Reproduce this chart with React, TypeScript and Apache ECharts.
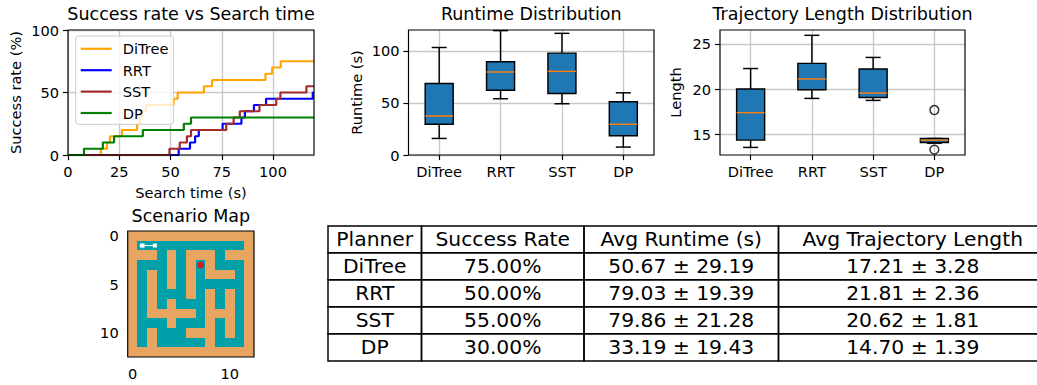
import React, { useEffect, useRef } from "react";
import * as echarts from "echarts";

const FONT = '"DejaVu Sans"';
const planners = ["DiTree", "RRT", "SST", "DP"];
const colors = ["#ffa500", "#0000ff", "#a52a2a", "#008000"];

// success-rate step events: [time, rate]
const ditreeSteps = [[0,0],[16,5],[19,10],[20.5,15],[26.3,20],[33.7,25],[35,30],[36.2,35],[38,40],[51.5,45],[53.5,50],[66.3,55],[70.3,60],[96.3,65],[99.6,70],[103.8,75],[120,75]];
const rrtSteps = [[0,0],[54,5],[59.5,10],[62,15],[63.8,20],[75.4,25],[84.6,30],[86.3,35],[90.7,40],[96.6,45],[119.4,50],[120,50]];
const sstSteps = [[0,0],[49.5,5],[54.5,10],[58,15],[60,20],[77.2,25],[80.8,30],[83.8,35],[93.4,40],[101.6,45],[103.6,50],[116.3,55],[120,55]];
const dpSteps = [[0,0],[7.8,5],[17,10],[22.5,15],[36.5,20],[56.5,25],[60,30],[120,30]];

// box statistics, one entry per planner
const runtimeLow = [15.9, 54, 49.2, 7.6];
const runtimeQ1 = [29.5, 62.2, 59, 18.4];
const runtimeMedian = [37.5, 79.7, 80.3, 29.5];
const runtimeQ3 = [68.6, 89.5, 97.8, 51.1];
const runtimeHigh = [103.2, 119.4, 116.8, 59.7];

const lengthLow = [13.53, 18.96, 18.74, 14.0];
const lengthQ1 = [14.34, 19.93, 19.07, 14.07];
const lengthMedian = [17.38, 21.12, 19.55, 14.34];
const lengthQ3 = [20, 22.84, 22.22, 14.52];
const lengthHigh = [22.27, 25.95, 23.5, 14.52];
const lengthOutliers = [[3, 17.67], [3, 13.28]];

// 1 = wall (sand), 0 = free (teal)
const mazeRows = [
  "1111111111111",
  "1000000000001",
  "1110101110111",
  "1000101010001",
  "1010101011101",
  "1010101000001",
  "1010001010101",
  "1010100010101",
  "1011111011101",
  "1000100010101",
  "1010001110101",
  "1010000010001",
  "1111111111111",
];
const goalPoint = [7, 3];
const startPoint = [1, 1];
const startArrow = [[1, 1], [2.3, 1]];

const tableRows = [
  ["Planner", "Success Rate", "Avg Runtime (s)", "Avg Trajectory Length"],
  ["DiTree", "75.00%", "50.67 ± 29.19", "17.21 ± 3.28"],
  ["RRT", "50.00%", "79.03 ± 19.39", "21.81 ± 2.36"],
  ["SST", "55.00%", "79.86 ± 21.28", "20.62 ± 1.81"],
  ["DP", "30.00%", "33.19 ± 19.43", "14.70 ± 1.39"],
];
const tableCols = [328, 421.5, 584, 778.5, 1047];
const tableLines = [226, 252.7, 279.7, 306.7, 333.7, 361];

const boxes = [
  { left: 68, top: 30, width: 246, height: 125 },
  { left: 408.5, top: 30, width: 245.5, height: 125 },
  { left: 720, top: 30, width: 245, height: 125 },
  { left: 127.7, top: 231, width: 126.3, height: 126 },
];

const label = { fontFamily: FONT, fontSize: 14.6, color: "#000", margin: 9 };
const tick = { length: 5.1, lineStyle: { color: "#000", width: 1.17 } };
const grayLine = { show: true, lineStyle: { color: "#c8c8c8", width: 1.33 } };
const axisName = { fontFamily: FONT, fontSize: 14.6, color: "#000" };

function valueAxis(gridIndex: number, min: number, max: number, ticks: number[], extra: any = {}) {
  return {
    type: "value",
    gridIndex,
    min,
    max,
    axisLine: { show: false },
    axisTick: { ...tick, show: true, customValues: ticks },
    axisLabel: { ...label, customValues: ticks },
    splitLine: { show: false },
    nameTextStyle: axisName,
    ...extra,
  };
}

function categoryAxis(gridIndex: number) {
  return {
    type: "category",
    gridIndex,
    data: planners,
    axisLine: { show: false },
    axisTick: { ...tick, show: true, alignWithLabel: true, interval: 0 },
    axisLabel: { ...label, interval: 0 },
    splitLine: { ...grayLine, alignWithLabel: true, interval: 0 },
  };
}

function boxItem(params: any, api: any) {
  const x = api.value(0);
  const pLow = api.coord([x, api.value(1)]);
  const pQ1 = api.coord([x, api.value(2)]);
  const pMed = api.coord([x, api.value(3)]);
  const pQ3 = api.coord([x, api.value(4)]);
  const pHigh = api.coord([x, api.value(5)]);
  const cx = pLow[0];
  const boxHalf = 14;
  const capHalf = 7.5;
  const black = { stroke: "#000", lineWidth: 1.46, fill: "none" };
  const seg = (x1: number, y1: number, x2: number, y2: number, style = black) => ({
    type: "line",
    shape: { x1, y1, x2, y2 },
    style,
  });
  return {
    type: "group",
    children: [
      seg(cx, pLow[1], cx, pQ1[1]),
      seg(cx, pQ3[1], cx, pHigh[1]),
      seg(cx - capHalf, pLow[1], cx + capHalf, pLow[1]),
      seg(cx - capHalf, pHigh[1], cx + capHalf, pHigh[1]),
      {
        type: "rect",
        shape: { x: cx - boxHalf, y: pQ3[1], width: boxHalf * 2, height: pQ1[1] - pQ3[1] },
        style: { fill: "#1f77b4", stroke: "#000", lineWidth: 1.46 },
      },
      seg(cx - boxHalf, pMed[1], cx + boxHalf, pMed[1], { stroke: "#ff7f0e", lineWidth: 1.46, fill: "none" }),
    ],
  };
}

function boxData(low: number[], q1: number[], med: number[], q3: number[], high: number[]) {
  return planners.map((_, i) => [i, low[i], q1[i], med[i], q3[i], high[i]]);
}

function mazeCell(params: any, api: any) {
  const c = api.value(0);
  const r = api.value(1);
  const a = api.coord([c - 0.5, r - 0.5]);
  const b = api.coord([c + 0.5, r + 0.5]);
  const fill = api.value(2) ? "#e8a562" : "#00a0ab";
  const x0 = Math.round(a[0]);
  const y0 = Math.round(a[1]);
  const x1 = Math.round(b[0]);
  const y1 = Math.round(b[1]);
  return {
    type: "rect",
    shape: { x: x0, y: y0, width: x1 - x0, height: y1 - y0 },
    style: { fill, stroke: "none" },
  };
}

const mazeData: number[][] = [];
mazeRows.forEach((row, r) => row.split("").forEach((v, c) => mazeData.push([c, r, Number(v)])));

function buildTable() {
  const out: any[] = [];
  tableRows.forEach((row, r) => {
    row.forEach((txt, c) => {
      const x0 = tableCols[c];
      const x1 = tableCols[c + 1];
      const y0 = tableLines[r];
      const y1 = tableLines[r + 1];
      out.push({
        type: "rect",
        shape: { x: x0, y: y0, width: x1 - x0, height: y1 - y0 },
        style: { fill: "none", stroke: "#000", lineWidth: 1.46 },
      });
      out.push({
        type: "text",
        x: (x0 + x1) / 2,
        y: (y0 + y1) / 2,
        style: { text: txt, fontFamily: FONT, fontSize: 20.3, fill: "#000", textAlign: "center", textVerticalAlign: "middle" },
      });
    });
  });
  return out;
}

const titles = ["Success rate vs Search time", "Runtime Distribution", "Trajectory Length Distribution", "Scenario Map"];

export default function App() {
  const ref = useRef<HTMLDivElement>(null);
  useEffect(() => {
    document.body.style.margin = "0";
    document.body.style.overflow = "hidden";
    const chart = echarts.init(ref.current!, undefined, { renderer: "svg" });
    const stepSets = [ditreeSteps, rrtSteps, sstSteps, dpSteps];
    chart.setOption({
      animation: false,
      backgroundColor: "#fff",
      title: titles.map((text, i) => ({
        text,
        left: boxes[i].left + boxes[i].width / 2,
        top: i === 3 ? 207 : 5,
        textAlign: "center",
        padding: 0,
        textStyle: { fontFamily: FONT, fontSize: 17.5, fontWeight: "normal", color: "#000" },
      })),
      grid: boxes.map((b) => ({ ...b, containLabel: false, show: false })),
      legend: {
        data: planners,
        left: 75.7,
        top: 36,
        orient: "vertical",
        align: "left",
        icon: "rect",
        padding: [5.3, 5, 3.8, 5],
        itemWidth: 31,
        itemHeight: 2.2,
        itemGap: 6.4,
        backgroundColor: "rgba(255,255,255,0.8)",
        borderColor: "#ccc",
        borderWidth: 1,
        borderRadius: 3,
        textStyle: { fontFamily: FONT, fontSize: 14.6, color: "#000", padding: [0, 0, 0, 6] },
      },
      xAxis: [
        valueAxis(0, 0, 120, [0, 25, 50, 75, 100], {
          splitLine: grayLine,
          name: "Search time (s)",
          nameLocation: "middle",
          nameGap: 29.5,
        }),
        categoryAxis(1),
        categoryAxis(2),
        valueAxis(3, -0.5, 12.5, [0, 10]),
      ],
      yAxis: [
        valueAxis(0, 0, 100, [0, 50, 100], {
          splitLine: grayLine,
          name: "Success rate (%)",
          nameLocation: "middle",
          nameGap: 45,
        }),
        valueAxis(1, 0, 120, [0, 50, 100], {
          splitLine: grayLine,
          name: "Runtime (s)",
          nameLocation: "middle",
          nameGap: 45,
        }),
        valueAxis(2, 12.69, 26.54, [15, 20, 25], {
          splitLine: grayLine,
          name: "Length",
          nameLocation: "middle",
          nameGap: 37,
        }),
        valueAxis(3, -0.5, 12.5, [0, 5, 10], { inverse: true }),
      ],
      series: [
        ...planners.map((name, i) => ({
          type: "line",
          name,
          xAxisIndex: 0,
          yAxisIndex: 0,
          step: "end",
          showSymbol: false,
          symbol: "none",
          data: stepSets[i],
          lineStyle: { color: colors[i], width: 2.2 },
          itemStyle: { color: colors[i] },
        })),
        {
          type: "custom",
          name: "Runtime",
          xAxisIndex: 1,
          yAxisIndex: 1,
          renderItem: boxItem,
          encode: { x: 0, y: [1, 2, 3, 4, 5] },
          data: boxData(runtimeLow, runtimeQ1, runtimeMedian, runtimeQ3, runtimeHigh),
        },
        {
          type: "custom",
          name: "Length",
          xAxisIndex: 2,
          yAxisIndex: 2,
          renderItem: boxItem,
          encode: { x: 0, y: [1, 2, 3, 4, 5] },
          data: boxData(lengthLow, lengthQ1, lengthMedian, lengthQ3, lengthHigh),
        },
        {
          type: "scatter",
          name: "Outliers",
          xAxisIndex: 2,
          yAxisIndex: 2,
          symbol: "circle",
          symbolSize: 8.8,
          clip: false,
          data: lengthOutliers,
          itemStyle: { color: "rgba(255,255,255,0)", borderColor: "#000", borderWidth: 1.46 },
        },
        {
          type: "custom",
          name: "Maze",
          xAxisIndex: 3,
          yAxisIndex: 3,
          renderItem: mazeCell,
          encode: { x: 0, y: 1 },
          data: mazeData,
          z: 2,
        },
        {
          type: "line",
          name: "Path",
          xAxisIndex: 3,
          yAxisIndex: 3,
          data: startArrow,
          symbol: ["none", "arrow"],
          symbolSize: 4,
          lineStyle: { color: "#fff", width: 1 },
          itemStyle: { color: "#fff" },
          z: 3,
        },
        {
          type: "scatter",
          name: "Start",
          xAxisIndex: 3,
          yAxisIndex: 3,
          symbol: "rect",
          symbolSize: [5, 3.5],
          data: [startPoint],
          itemStyle: { color: "#fff" },
          z: 4,
        },
        {
          type: "scatter",
          name: "Goal",
          xAxisIndex: 3,
          yAxisIndex: 3,
          symbol: "circle",
          symbolSize: 7,
          data: [goalPoint],
          itemStyle: { color: "#ff0000" },
          z: 4,
        },
      ],
      graphic: [
        ...boxes.map((b) => ({
          type: "rect",
          z: 50,
          shape: { x: b.left, y: b.top, width: b.width, height: b.height },
          style: { fill: "none", stroke: "#000", lineWidth: 1.17 },
        })),
        ...buildTable().map((g) => ({ ...g, z: 50 })),
      ],
    });
    return () => chart.dispose();
  }, []);
  return <div ref={ref} style={{ width: 1037, height: 385 }} />;
}
